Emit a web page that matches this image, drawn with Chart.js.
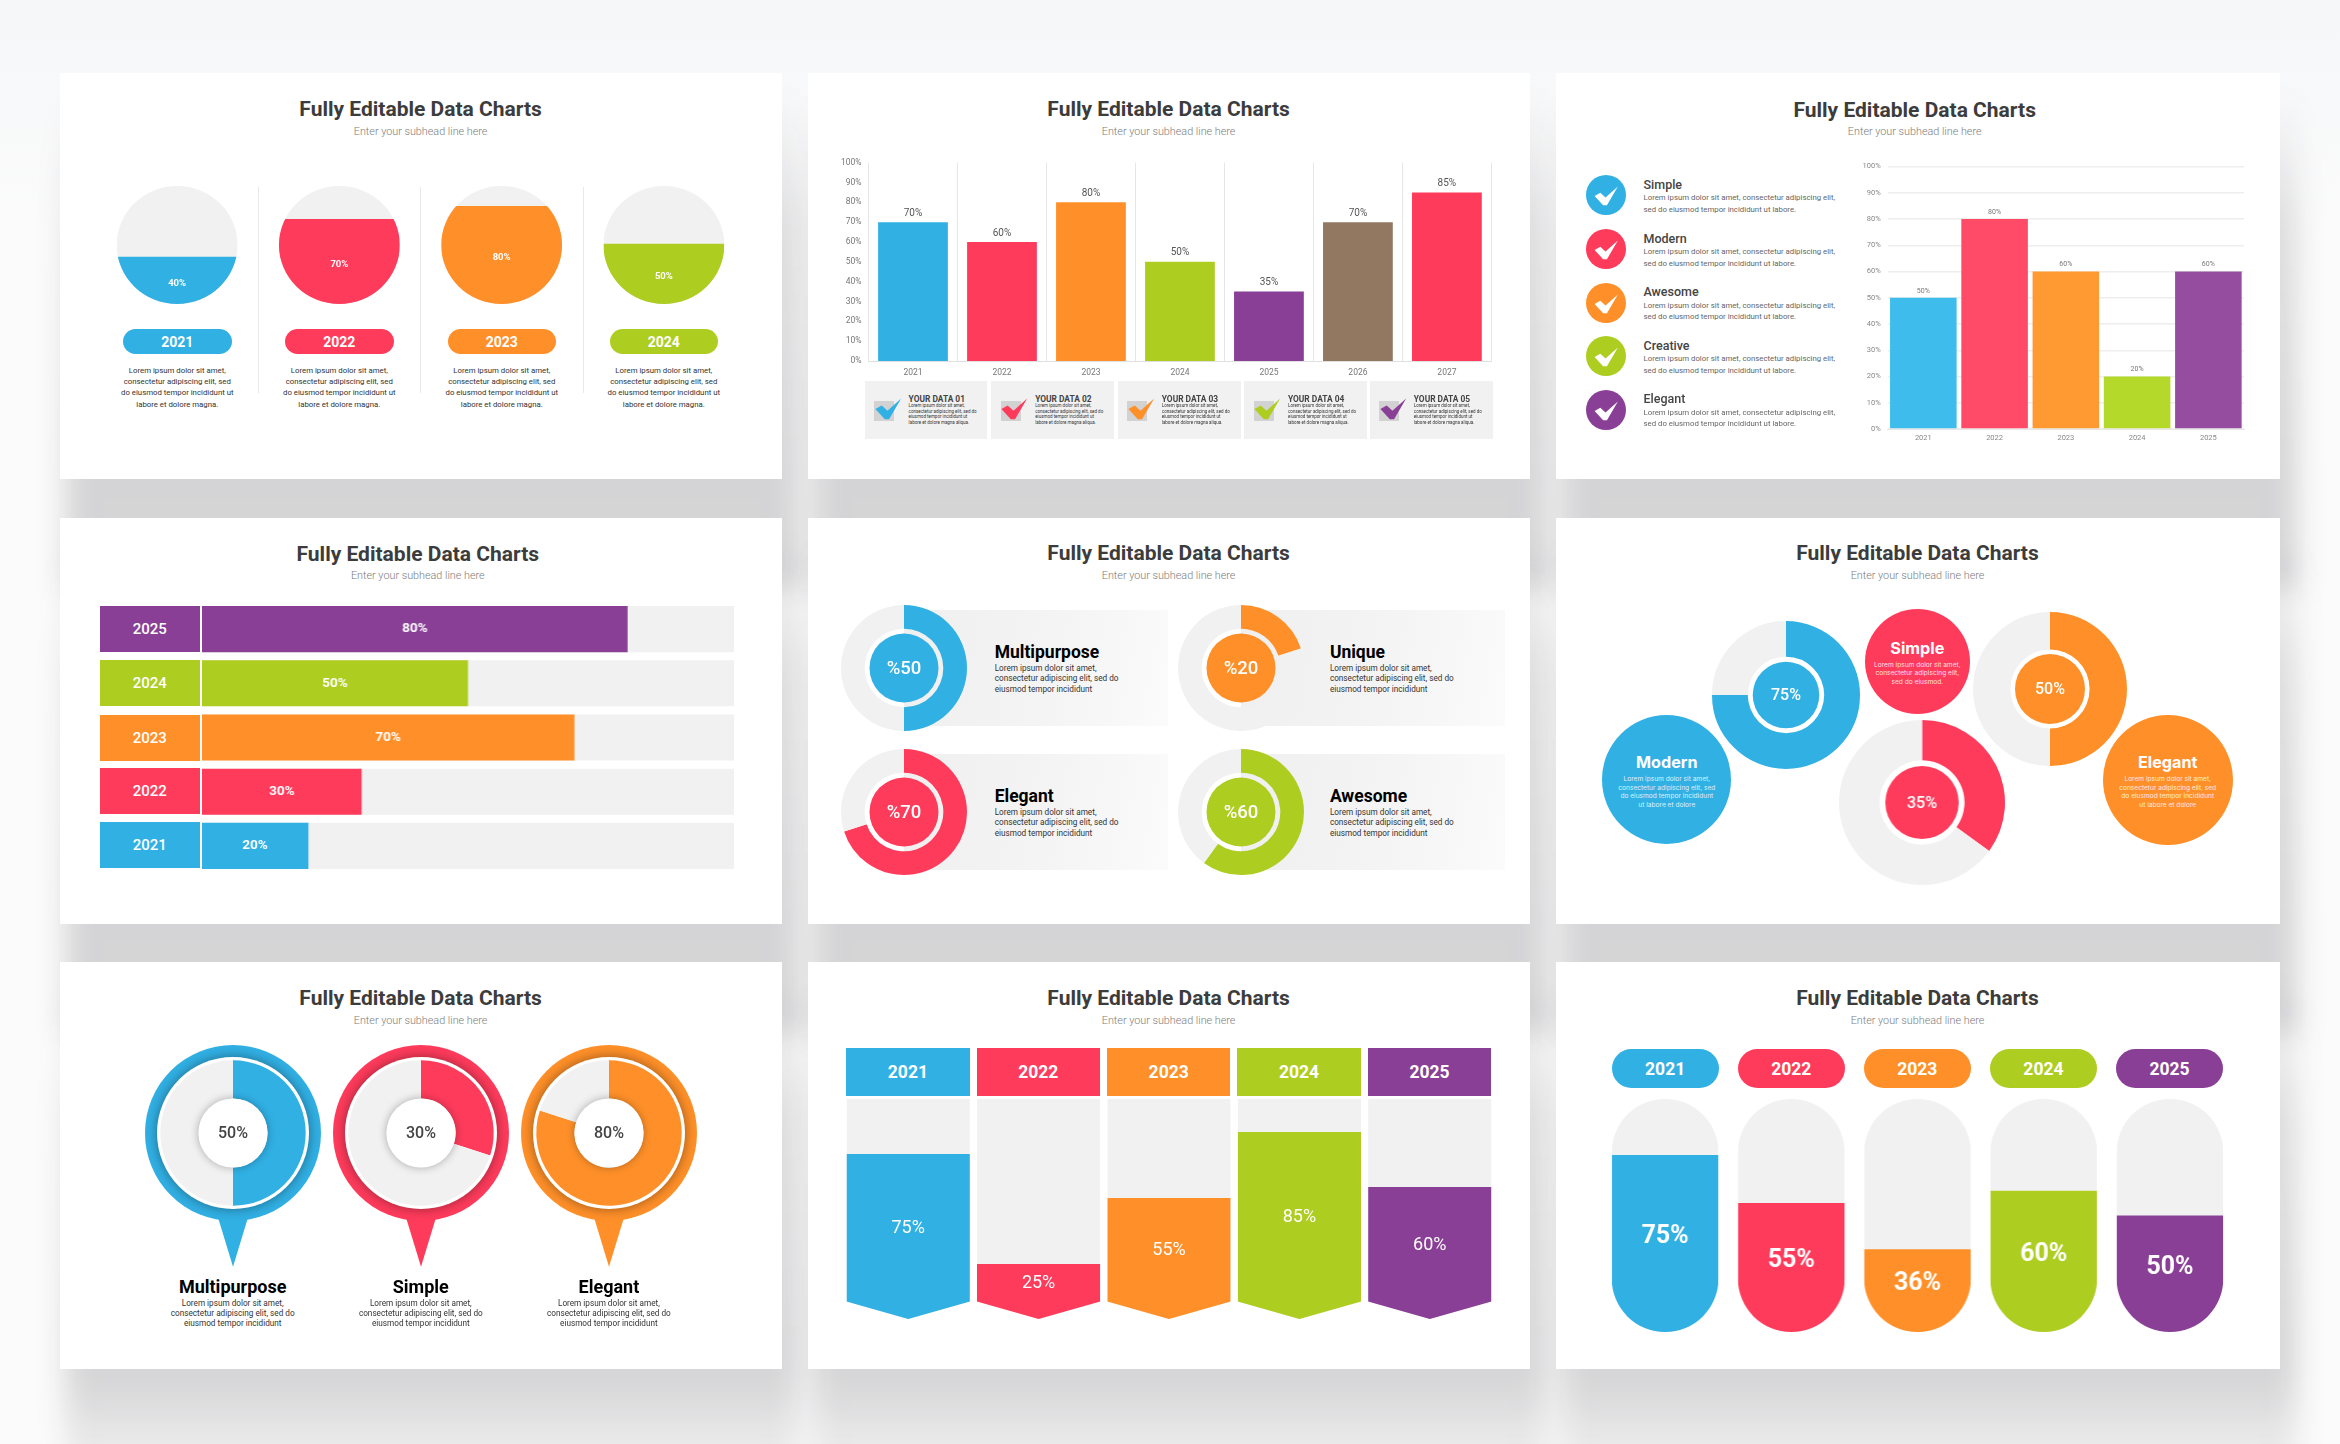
<!DOCTYPE html>
<html>
<head>
<meta charset="utf-8">
<title>Fully Editable Data Charts</title>
<script src="https://cdn.jsdelivr.net/npm/chart.js@4"></script>
<style>
  html, body { margin: 0; padding: 0; }
  body { width: 2340px; height: 1444px; position: relative; overflow: hidden; background: linear-gradient(#f6f7f9, #fbfbfb 16%); font-family: Roboto, sans-serif; }
  .panel, .shadow, canvas, .t, .box, svg { position: absolute; }
  .panel { background: #fff; }
  .shadow { filter: blur(14px); }
  .t { white-space: nowrap; line-height: 1; transform: translate(-50%, -50%); }
  .l { transform: translate(0, -50%); }
  .box { display: flex; align-items: center; justify-content: center; color: #fff; }
</style>
</head>
<body>
<script>
const BLUE = "#31b0e4", RED = "#ff3b5c", ORANGE = "#ff9029", GREEN = "#aecd21", PURPLE = "#8a3f96", BROWN = "#937861", TRACK = "#f1f1f1";
const LIGHT = ["#3ebcec", "#ff4a68", "#ff9a33", "#b5d92b", "#954da0"];

// panel 1
const circleYears = ["2021", "2022", "2023", "2024"];
const circleLevels = [40, 72, 83, 51];
const circleText = ["40%", "70%", "80%", "50%"];
const circleColors = [BLUE, RED, ORANGE, GREEN];
// panel 2
const columnYears = ["2021", "2022", "2023", "2024", "2025", "2026", "2027"];
const columnValues = [70, 60, 80, 50, 35, 70, 85];
const columnColors = [BLUE, RED, ORANGE, GREEN, PURPLE, BROWN, RED];
const yourData = ["YOUR DATA 01", "YOUR DATA 02", "YOUR DATA 03", "YOUR DATA 04", "YOUR DATA 05"];
const yourDataColors = [BLUE, RED, ORANGE, GREEN, PURPLE];
// panel 3
const listNames = ["Simple", "Modern", "Awesome", "Creative", "Elegant"];
const listColors = [BLUE, RED, ORANGE, GREEN, PURPLE];
const sideYears = ["2021", "2022", "2023", "2024", "2025"];
const sideValues = [50, 80, 60, 20, 60];
// panel 4
const rowYears = ["2025", "2024", "2023", "2022", "2021"];
const rowValues = [80, 50, 70, 30, 20];
const rowColors = [PURPLE, GREEN, ORANGE, RED, BLUE];
// panel 5
const ringNames = ["Multipurpose", "Unique", "Elegant", "Awesome"];
const ringValues = [50, 20, 70, 60];
const ringColors = [BLUE, ORANGE, RED, GREEN];
// panel 6
const bubbleRingValues = [75, 50, 35];
const bubbleRingColors = [BLUE, ORANGE, RED];
const bubbleNames = ["Simple", "Modern", "Elegant"];
// panel 7
const pinNames = ["Multipurpose", "Simple", "Elegant"];
const pinValues = [50, 30, 80];
const pinColors = [BLUE, RED, ORANGE];
// panel 8
const ribbonYears = ["2021", "2022", "2023", "2024", "2025"];
const ribbonValues = [75, 25, 55, 85, 60];
const ribbonColors = [BLUE, RED, ORANGE, GREEN, PURPLE];
// panel 9
const capsuleYears = ["2021", "2022", "2023", "2024", "2025"];
const capsuleLevels = [76, 55.4, 35.5, 60.6, 50];
const capsuleText = ["75%", "55%", "36%", "60%", "50%"];
const capsuleColors = [BLUE, RED, ORANGE, GREEN, PURPLE];

const panels = [
  [60, 73, 722, 406, 420.6, 109, 131.7],
  [808, 73, 722, 406, 1168.6, 109, 131.7],
  [1556, 73, 724, 406, 1914.7, 110, 131.7],
  [60, 518, 722, 406, 417.8, 554, 576.2],
  [808, 518, 722, 406, 1168.6, 553.3, 576.2],
  [1556, 518, 724, 406, 1917.5, 553.3, 576.2],
  [60, 962, 722, 407, 420.6, 998.3, 1021.2],
  [808, 962, 722, 407, 1168.6, 998.3, 1021.2],
  [1556, 962, 724, 407, 1917.5, 998.3, 1021.2],
];

const addText = (text, x, y, size, color, weight, opts) => {
  const el = document.createElement("div");
  el.className = "t" + (opts && opts.left ? " l" : "");
  el.textContent = text;
  el.style.cssText = `left:${x}px;top:${y}px;font-size:${size}px;color:${color};font-weight:${weight};` + ((opts && opts.font) ? `font-family:${opts.font};` : "");
  document.body.appendChild(el);
  return el;
};

const addBox = (x, y, w, h, bg, text, size, weight, radius) => {
  const el = document.createElement("div");
  el.className = "box";
  el.style.cssText = `left:${x}px;top:${y}px;width:${w}px;height:${h}px;background:${bg};font-size:${size || 12}px;font-weight:${weight || 700};border-radius:${radius || 0}px;`;
  if (text) el.textContent = text;
  document.body.appendChild(el);
  return el;
};

const addLines = (lines, x, ys, size, color, left) => {
  lines.forEach((line, i) => addText(line, x, ys[i], size, color, 400, { left: left }));
};

const addCheck = (x, y, color, scale) => {
  const svg = document.createElementNS("http://www.w3.org/2000/svg", "svg");
  svg.setAttribute("width", 40);
  svg.setAttribute("height", 40);
  svg.setAttribute("viewBox", "-20 -20 40 40");
  svg.style.left = (x - 20) + "px";
  svg.style.top = (y - 20) + "px";
  svg.style.overflow = "visible";
  const p = document.createElementNS("http://www.w3.org/2000/svg", "polygon");
  p.setAttribute("points", "-12,1 -6,-2.5 -0.5,2.5 12.5,-9 1,10.7 -3,10.7");
  p.setAttribute("fill", color);
  p.setAttribute("transform", `scale(${scale || 1})`);
  svg.appendChild(p);
  document.body.appendChild(svg);
};

// keep the plot area where it is in the picture, whatever the tick labels measure
const fixWidth = (w) => (scale) => { scale.width = w; };
const fixHeight = (h) => (scale) => { scale.height = h; };

const addCanvas = (x, y, w, h) => {
  const c = document.createElement("canvas");
  c.width = w;
  c.height = h;
  c.style.cssText = `left:${x}px;top:${y}px;width:${w}px;height:${h}px;`;
  document.body.appendChild(c);
  return c;
};

// clips the bars of a chart to circles, capsules or ribbons
const shapeClip = {
  id: "shapeClip",
  beforeDatasetsDraw(chart, args, o) {
    if (!o.shape) return;
    const ctx = chart.ctx;
    const y = chart.scales.y;
    const top = y.getPixelForValue(y.max), bottom = y.getPixelForValue(y.min);
    ctx.save();
    ctx.beginPath();
    chart.getDatasetMeta(0).data.forEach((bar) => {
      const half = bar.width / 2, x = bar.x;
      if (o.shape === "circle") {
        ctx.moveTo(x + half, (top + bottom) / 2);
        ctx.ellipse(x, (top + bottom) / 2, half, (bottom - top) / 2, 0, 0, Math.PI * 2);
      } else if (o.shape === "capsule") {
        ctx.roundRect(x - half, top, half * 2, bottom - top, half);
      } else {
        const shoulder = y.getPixelForValue(o.shoulder);
        ctx.moveTo(x - half, top);
        ctx.lineTo(x + half, top);
        ctx.lineTo(x + half, shoulder);
        ctx.lineTo(x, bottom);
        ctx.lineTo(x - half, shoulder);
        ctx.closePath();
      }
    });
    ctx.clip();
  },
  afterDatasetsDraw(chart, args, o) {
    if (o.shape) chart.ctx.restore();
  },
};

// writes a text in the middle of each bar, or above it
const barText = {
  id: "barText",
  afterDatasetsDraw(chart, args, o) {
    if (!o.texts) return;
    const ctx = chart.ctx;
    ctx.save();
    ctx.textAlign = "center";
    ctx.textBaseline = "middle";
    ctx.fillStyle = o.color;
    ctx.font = o.font;
    chart.getDatasetMeta(0).data.forEach((bar, i) => {
      let x = bar.x, y;
      if (o.above) {
        y = bar.y - o.above;
      } else if (chart.options.indexAxis === "y") {
        x = (bar.x + bar.base) / 2;
        y = bar.y;
      } else {
        const base = o.baseValue !== undefined ? chart.scales.y.getPixelForValue(o.baseValue) : bar.base;
        y = (bar.y + base) / 2 + (o.dy || 0);
      }
      ctx.fillText(o.texts[i], x, y);
    });
    ctx.restore();
  },
};

// hole of a doughnut: a white ring and a coloured disc, or the white hole of a pin
const ringCentre = {
  id: "ringCentre",
  beforeDatasetsDraw(chart, args, o) {
    if (!o.pin) return;
    const ctx = chart.ctx, arc = chart.getDatasetMeta(0).data[0];
    const x = arc.x, y = arc.y;
    ctx.save();
    ctx.fillStyle = o.color;
    ctx.beginPath();
    ctx.moveTo(x - o.tipHalf, y + o.pinR * 0.96);
    ctx.lineTo(x + o.tipHalf, y + o.pinR * 0.96);
    ctx.lineTo(x, y + o.tipY);
    ctx.closePath();
    ctx.fill();
    ctx.beginPath();
    ctx.arc(x, y, o.pinR, 0, Math.PI * 2);
    ctx.fill();
    ctx.shadowColor = "rgba(0,0,0,0.4)";
    ctx.shadowBlur = 12;
    ctx.fillStyle = "#fff";
    ctx.beginPath();
    ctx.arc(x, y, o.whiteR, 0, Math.PI * 2);
    ctx.fill();
    ctx.restore();
  },
  afterDatasetsDraw(chart, args, o) {
    if (!o.text) return;
    const ctx = chart.ctx, arc = chart.getDatasetMeta(0).data[0];
    const x = arc.x, y = arc.y;
    ctx.save();
    if (o.discR) {
      ctx.fillStyle = o.color;
      ctx.beginPath();
      ctx.arc(x, y, o.discR, 0, Math.PI * 2);
      ctx.fill();
    }
    if (o.pin) {
      ctx.shadowColor = "rgba(0,0,0,0.3)";
      ctx.shadowBlur = 9;
      ctx.fillStyle = "#fff";
      ctx.beginPath();
      ctx.arc(x, y, arc.innerRadius, 0, Math.PI * 2);
      ctx.fill();
      ctx.shadowColor = "transparent";
    }
    ctx.textAlign = "center";
    ctx.textBaseline = "middle";
    ctx.fillStyle = o.textColor || "#fff";
    ctx.font = o.font;
    ctx.fillText(o.text, x, y + 1);
    ctx.restore();
  },
};

Chart.register(shapeClip, barText, ringCentre);
Chart.defaults.animation = false;
Chart.defaults.responsive = false;
Chart.defaults.devicePixelRatio = 1;
Chart.defaults.font.family = "Roboto, sans-serif";
Chart.defaults.plugins.legend.display = false;
Chart.defaults.plugins.tooltip.enabled = false;

panels.forEach((p) => {
  const shadow = document.createElement("div");
  const last = p[1] > 900;
  const h = p[3] - 20;
  shadow.className = "shadow";
  shadow.style.cssText = `left:${p[0] + 5}px;top:${p[1] + 20}px;width:${p[2] + 12}px;height:${h + 110}px;`;
  // a soft fall-off only under the last row, the other rows run on behind the next panel
  shadow.style.background = `linear-gradient(rgba(20,20,30,0), rgba(20,20,30,0.13) 130px, rgba(20,20,30,0.165) ${h}px, ` +
    (last ? `rgba(20,20,30,0.14) ${h + 25}px, rgba(20,20,30,0.07) ${h + 75}px, rgba(20,20,30,0.05) ${h + 110}px)` : `rgba(20,20,30,0.165) ${h + 110}px)`);
  document.body.appendChild(shadow);
});
panels.forEach((p) => {
  const el = document.createElement("div");
  el.className = "panel";
  el.style.cssText = `left:${p[0]}px;top:${p[1]}px;width:${p[2]}px;height:${p[3]}px;`;
  document.body.appendChild(el);
  addText("Fully Editable Data Charts", p[4], p[5], 21, "#3c3c3c", 700);
  addText("Enter your subhead line here", p[4], p[6], 10.8, "#7c7c7c", 300);
});

// a bar chart on a bare band axis: tracks behind, values in front
const shapeBars = (canvas, labels, values, colors, barPct, shape, text) => new Chart(canvas, {
  type: "bar",
  data: {
    labels: labels,
    datasets: [
      { data: values, backgroundColor: colors, barPercentage: barPct, categoryPercentage: 1, order: 1, grouped: false },
      { data: labels.map(() => 100), backgroundColor: TRACK, barPercentage: barPct, categoryPercentage: 1, order: 2, grouped: false },
    ],
  },
  options: {
    layout: { padding: 0 },
    scales: {
      x: { display: false },
      y: { display: false, min: 0, max: 100 },
    },
    plugins: { shapeClip: shape, barText: text },
  },
});

// --- panel 1
shapeBars(addCanvas(96, 186, 649, 118), circleYears, circleLevels, circleColors, 0.745, { shape: "circle" },
  { texts: circleText, font: "700 9.5px Roboto", color: "#fff", dy: 3 });
const circleX = [177.3, 339.3, 501.8, 663.8];
const dividerX = [258.3, 420.3, 583.3];
const loremFour = ["Lorem ipsum dolor sit amet,", "consectetur adipiscing elit, sed", "do eiusmod tempor incididunt ut", "labore et dolore magna."];
dividerX.forEach((x) => addBox(x, 186.7, 1, 206, "#e9e9e9"));
circleYears.forEach((year, i) => {
  addBox(circleX[i] - 54.3, 329, 108.5, 25, circleColors[i], year, 14, 700, 12.5);
  addLines(loremFour, circleX[i], [370.7, 382, 393, 404.7], 7.8, "#333");
});

// --- panel 2
new Chart(addCanvas(828, 150, 680, 232), {
  type: "bar",
  data: { labels: columnYears, datasets: [{ data: columnValues, backgroundColor: columnColors, barPercentage: 0.784, categoryPercentage: 1 }] },
  options: {
    layout: { padding: { top: 12.7, right: 16.6 } },
    scales: {
      x: {
        afterFit: fixHeight(21),
        grid: { color: "#e6e6e6", drawTicks: false },
        border: { color: "#e0e0e0" },
        ticks: { color: "#777", font: { size: 8.5 }, padding: 7, maxRotation: 0 },
      },
      y: {
        min: 0, max: 100,
        afterFit: fixWidth(40.5),
        grid: { display: false, drawTicks: false },
        border: { display: false },
        ticks: { stepSize: 10, color: "#777", font: { size: 8.5 }, padding: 7, callback: (v) => v + "%" },
      },
    },
    plugins: { barText: { texts: columnValues.map((v) => v + "%"), font: "10px Roboto", color: "#555", above: 9 } },
  },
});
const loremSmall = ["Lorem ipsum dolor sit amet,", "consectetur adipiscing elit, sed do", "eiusmod tempor incididunt ut", "labore et dolore magna aliqua."];
const yourDataX = [864.8, 991.4, 1118, 1244.2, 1370];
yourData.forEach((name, i) => {
  const x = yourDataX[i];
  addBox(x, 381, 122.5, 58.3, TRACK);
  addBox(x + 9.3, 401, 20, 19.7, "#d2d2d2");
  addCheck(x + 23, 408, yourDataColors[i], 1.05);
  addText(name, x + 43.8, 398.7, 8.4, "#444", 700, { left: true });
  addLines(loremSmall, x + 43.8, [406.3, 412, 417.3, 422.7], 4.5, "#333", true);
});

// --- panel 3
const loremWide = ["Lorem ipsum dolor sit amet, consectetur adipiscing elit,", "sed do eiusmod  tempor incididunt ut labore."];
const listY = [195.3, 249.3, 302.7, 356.3, 410];
listNames.forEach((name, i) => {
  addBox(1586.3, listY[i] - 20, 40, 40, listColors[i], "", 12, 700, 20);
  addCheck(1606.3, listY[i], "#fff", 0.95);
  addText(name, 1643.5, listY[i] - 10.8, 12.5, "#444", 500, { left: true });
  addLines(loremWide, 1643.5, [listY[i] + 3, listY[i] + 14.4], 7.8, "#666", true);
});
new Chart(addCanvas(1847, 155, 400, 295), {
  type: "bar",
  data: { labels: sideYears, datasets: [{ data: sideValues, backgroundColor: LIGHT, barPercentage: 0.934, categoryPercentage: 1 }] },
  options: {
    layout: { padding: { top: 11.3, right: 3 } },
    scales: {
      x: {
        afterFit: fixHeight(21),
        grid: { display: false, drawTicks: false },
        border: { color: "#e8e8e8" },
        ticks: { color: "#888", font: { size: 7.5 }, padding: 5, maxRotation: 0 },
      },
      y: {
        min: 0, max: 100,
        afterFit: fixWidth(40.7),
        grid: { color: "#eeeeee", lineWidth: 1.5, drawTicks: false },
        border: { display: false },
        ticks: { stepSize: 10, color: "#888", font: { size: 7.5 }, padding: 7, callback: (v) => v + "%" },
      },
    },
    plugins: { barText: { texts: sideValues.map((v) => v + "%"), font: "7px Roboto", color: "#777", above: 7 } },
  },
});

// --- panel 4
new Chart(addCanvas(202, 601.7, 531.7, 271), {
  type: "bar",
  data: {
    labels: rowYears,
    datasets: [
      { data: rowValues, backgroundColor: rowColors, barPercentage: 0.85, categoryPercentage: 1, grouped: false, order: 1 },
      { data: rowYears.map(() => 100), backgroundColor: TRACK, barPercentage: 0.85, categoryPercentage: 1, grouped: false, order: 2 },
    ],
  },
  options: {
    indexAxis: "y",
    layout: { padding: 0 },
    scales: { x: { display: false, min: 0, max: 100 }, y: { display: false } },
    plugins: { barText: { texts: rowValues.map((v) => v + "%"), font: "700 13.5px Roboto", color: "#fff" } },
  },
});
const rowTop = [606, 660.3, 714.7, 768, 822.3];
rowYears.forEach((year, i) => addBox(100, rowTop[i], 99.7, 46, rowColors[i], year, 15, 500));

// --- panel 5
const ringPos = [[903.9, 667.7], [1240.5, 667.7], [903.9, 811.7], [1240.5, 811.7]];
const ringTextX = [994.7, 1329.9, 994.7, 1329.9];
const loremThree = ["Lorem ipsum dolor sit amet,", "consectetur adipiscing elit, sed do", "eiusmod tempor incididunt"];
ringNames.forEach((name, i) => {
  addBox(ringPos[i][0], ringPos[i][1] - 57.7, 264.5, 115.5, "linear-gradient(100deg, #efefef, #f4f4f4 55%, #fbfbfb)");
  const sx = ringPos[i][0] - 64, sy = ringPos[i][1] - 64;
  new Chart(addCanvas(sx, sy, 128, 128), {
    type: "doughnut",
    data: { datasets: [{ data: [ringValues[i], 100 - ringValues[i]], backgroundColor: [ringColors[i], TRACK], borderWidth: 0 }] },
    options: {
      cutout: "62.4%",
      layout: { padding: 1 },
      plugins: { ringCentre: { color: ringColors[i], discR: 34.5, text: "%" + ringValues[i], font: "500 18.5px Roboto" } },
    },
  });
  addText(name, ringTextX[i], ringPos[i][1] - 15.2, 17.5, "#000", 700, { left: true });
  addLines(loremThree, ringTextX[i], [ringPos[i][1] + 0.3, ringPos[i][1] + 10.6, ringPos[i][1] + 21], 8.2, "#333", true);
});

// --- panel 6
const bubbleCircles = [[1917.3, 661.3, 52.5, RED], [1666.8, 779.7, 64.6, BLUE], [2167.7, 779.7, 65, ORANGE]];
const bubbleTitleY = [648.3, 762.3, 762.3];
const bubbleLines = [
  ["Lorem ipsum dolor sit amet,", "consectetur adipiscing elit,", "sed do eiusmod."],
  ["Lorem ipsum dolor sit amet,", "consectetur adipiscing elit, sed", "do eiusmod tempor incididunt", "ut labore et dolore"],
  ["Lorem ipsum dolor sit amet,", "consectetur adipiscing elit, sed", "do eiusmod tempor incididunt", "ut labore et dolore"],
];
const bubbleLineY = [[664.7, 673.3, 681.7], [779, 787.7, 796, 805], [779, 787.7, 796, 805]];
bubbleNames.forEach((name, i) => {
  const c = bubbleCircles[i];
  addBox(c[0] - c[2], c[1] - c[2], c[2] * 2, c[2] * 2, c[3], "", 12, 700, c[2]);
  addText(name, c[0], bubbleTitleY[i], 16.2, "#fff", 700, { font: "Inter" });
  bubbleLines[i].forEach((line, j) => addText(line, c[0], bubbleLineY[i][j], 6.6, "rgba(255,255,255,0.85)", 400, { font: "Inter" }));
});
const bubbleRingPos = [[1786, 695, 74, 38.2, 33.3], [2050, 689, 77, 39.6, 35], [1922, 802.7, 82.8, 42.4, 36.5]];
bubbleRingValues.forEach((v, i) => {
  const r = bubbleRingPos[i];
  new Chart(addCanvas(r[0] - r[2] - 1, r[1] - r[2] - 1, r[2] * 2 + 2, r[2] * 2 + 2), {
    type: "doughnut",
    data: { datasets: [{ data: [v, 100 - v], backgroundColor: [bubbleRingColors[i], TRACK], borderWidth: 0 }] },
    options: {
      cutout: (r[3] / r[2] * 100) + "%",
      layout: { padding: 1 },
      plugins: { ringCentre: { color: bubbleRingColors[i], discR: r[4], text: v + "%", font: "500 16px Roboto" } },
    },
  });
});

// --- panel 7
const pinX = [232.7, 420.8, 608.9];
pinNames.forEach((name, i) => {
  new Chart(addCanvas(pinX[i] - 100, 1033, 200, 240), {
    type: "doughnut",
    data: { datasets: [{ data: [pinValues[i], 100 - pinValues[i]], backgroundColor: [pinColors[i], TRACK], borderWidth: 0 }] },
    options: {
      cutout: "47.6%",
      layout: { padding: { left: 27.3, right: 27.3, top: 27.3, bottom: 67.3 } },
      plugins: {
        ringCentre: { pin: true, color: pinColors[i], pinR: 88, whiteR: 76, tipHalf: 15, tipY: 133.7, text: pinValues[i] + "%", textColor: "#444", font: "500 16px Roboto" },
      },
    },
  });
  addText(name, pinX[i], 1286.7, 18, "#000", 700);
  addLines(loremThree, pinX[i], [1302.7, 1312.7, 1323], 8.2, "#333");
});

// --- panel 8
shapeBars(addCanvas(842.7, 1099.3, 652, 220), ribbonYears, ribbonValues, ribbonColors, 0.946, { shape: "ribbon", shoulder: 8 },
  { texts: ribbonValues.map((v) => v + "%"), font: "18px Roboto", color: "#fff", baseValue: 8, dy: 1 });
ribbonYears.forEach((year, i) => addBox(846.2 + 130.4 * i, 1048, 123.4, 47.7, ribbonColors[i], year, 17.5, 700));

// --- panel 9
shapeBars(addCanvas(1602.2, 1099, 630.5, 233), capsuleYears, capsuleLevels, capsuleColors, 0.846, { shape: "capsule" },
  { texts: capsuleText, font: "700 25px Roboto", color: "#fff", dy: -6.5 });
capsuleYears.forEach((year, i) => addBox(1611.5 + 126.1 * i, 1049, 107.3, 39, capsuleColors[i], year, 17.5, 700, 19.5));
</script>
</body>
</html>
